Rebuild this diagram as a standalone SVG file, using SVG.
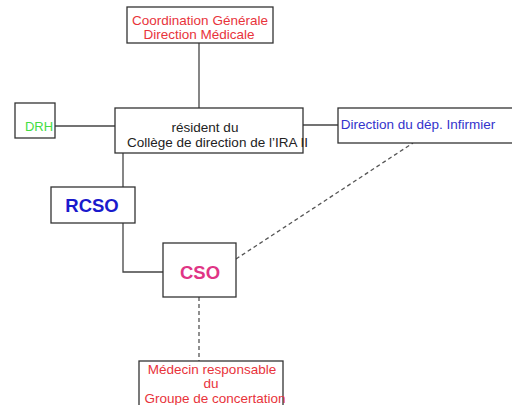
<svg xmlns="http://www.w3.org/2000/svg" width="512" height="405" viewBox="0 0 512 405">
<style>
.box{fill:#fff;stroke:#333;stroke-width:1.3}
.ln{stroke:#444;stroke-width:1.3;fill:none}
.dash{stroke:#555;stroke-width:1.3;fill:none;stroke-dasharray:4,3}
text{font-family:"Liberation Sans",Arial,sans-serif;font-size:13.5px;text-anchor:middle}
.red{fill:#e8333b}
.blue{fill:#3333cc}
.big{font-size:18.5px;font-weight:bold}
</style>
<rect width="512" height="405" fill="#fff"/>
<g id="connectors">
<line class="ln" x1="199" y1="43" x2="199" y2="108"/>
<line class="ln" x1="55" y1="126" x2="115" y2="126"/>
<line class="ln" x1="303" y1="125" x2="338" y2="125"/>
<line class="ln" x1="123" y1="153" x2="123" y2="187"/>
<polyline class="ln" points="123,223 123,272 163,272"/>
<line class="dash" x1="236" y1="259" x2="413" y2="143"/>
<line class="dash" x1="199" y1="297" x2="199" y2="361"/>
</g>
<g id="coordination">
<rect class="box" x="127" y="7" width="146" height="36"/>
<text class="red" x="200" y="24.5">Coordination Générale</text>
<text class="red" x="199" y="39">Direction Médicale</text>
</g>
<g id="drh">
<rect class="box" x="15" y="103" width="40" height="35"/>
<text x="39" y="131" style="fill:#44dd44;font-size:13px">DRH</text>
</g>
<g id="president">
<rect class="box" x="115" y="108" width="188" height="45"/>
<text x="205" y="132" style="fill:#222">résident du</text>
<text x="217.5" y="147" style="fill:#222">Collège de direction de l’IRA II</text>
</g>
<g id="direction-infirmier">
<rect class="box" x="338" y="108" width="180" height="35"/>
<text class="blue" x="418" y="129">Direction du dép. Infirmier</text>
</g>
<g id="rcso">
<rect class="box" x="51" y="187" width="84" height="36"/>
<text class="big" x="92" y="212" style="fill:#1a1acc">RCSO</text>
</g>
<g id="cso">
<rect class="box" x="163" y="243" width="73" height="54"/>
<text class="big" x="200" y="279" style="fill:#e03585">CSO</text>
</g>
<g id="medecin">
<rect class="box" x="139" y="361" width="144" height="50"/>
<text class="red" x="212" y="374">Médecin responsable</text>
<text class="red" x="211" y="388">du</text>
<text class="red" x="215" y="403">Groupe de concertation</text>
</g>
</svg>
